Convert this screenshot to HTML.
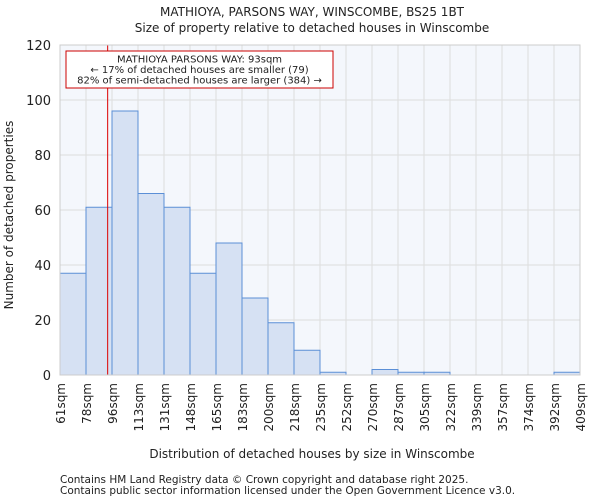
<!DOCTYPE html>
<html><head><meta charset="utf-8"><style>
body{margin:0;background:#fff;font-family:"DejaVu Sans","Liberation Sans",sans-serif}
svg text{font-family:"DejaVu Sans","Liberation Sans",sans-serif;fill:#222}
</style></head><body>
<svg id="c" width="600" height="500">
<text x="312" y="16" font-size="12" text-anchor="middle">MATHIOYA, PARSONS WAY, WINSCOMBE, BS25 1BT</text>
<text x="312" y="32" font-size="12" text-anchor="middle">Size of property relative to detached houses in Winscombe</text>
<rect x="60" y="45" width="520" height="330" fill="#f4f7fc"/>
<g id="grid"></g><g id="bars"></g><g id="axes"></g>
<text transform="translate(13,215) rotate(-90)" font-size="12" text-anchor="middle">Number of detached properties</text>
<text x="312" y="458" font-size="12" text-anchor="middle">Distribution of detached houses by size in Winscombe</text>
<text x="60" y="483" font-size="10.5" fill="#555">Contains HM Land Registry data © Crown copyright and database right 2025.</text>
<text x="60" y="494" font-size="10.5" fill="#555">Contains public sector information licensed under the Open Government Licence v3.0.</text>
</svg>
<script>
const categories=["61sqm","78sqm","96sqm","113sqm","131sqm","148sqm","165sqm","183sqm","200sqm","218sqm","235sqm","252sqm","270sqm","287sqm","305sqm","322sqm","339sqm","357sqm","374sqm","392sqm","409sqm"];
const edges=[61,78,96,113,131,148,165,183,200,218,235,252,270,287,305,322,339,357,374,392,409];
const counts=[37,61,96,66,61,37,48,28,19,9,1,0,2,1,1,0,0,0,0,1];
const yTicks=[0,20,40,60,80,100,120];
const marker=93;
const NS="http://www.w3.org/2000/svg";
const X0=60,X1=580,Y0=375,Y1=45,YMAX=120;
const bw=(X1-X0)/counts.length;
const xi=i=>X0+i*bw;
const y=v=>Y0-(v/YMAX)*(Y0-Y1);
function xv(v){for(let i=0;i<edges.length-1;i++){if(v<=edges[i+1])return xi(i)+bw*(v-edges[i])/(edges[i+1]-edges[i]);}return X1;}
function mk(t,a,p){const e=document.createElementNS(NS,t);for(const k in a)e.setAttribute(k,a[k]);p.appendChild(e);return e;}
const g=document.getElementById('grid'),b=document.getElementById('bars'),ax=document.getElementById('axes');
yTicks.forEach(v=>{const l=mk('line',{x1:X0,x2:X1,y1:y(v),y2:y(v),stroke:'#dddddd','stroke-width':1},g);


const t=mk('text',{x:X0-9,y:y(v)+5,'font-size':13,'text-anchor':'end'},ax);t.textContent=v;

});
categories.forEach((c,i)=>{const l=mk('line',{x1:xi(i),x2:xi(i),y1:Y1,y2:Y0,stroke:'#dddddd','stroke-width':1},g);


const t=mk('text',{transform:`translate(${xi(i)+5},${Y0+8}) rotate(-90)`,'font-size':12,'text-anchor':'end'},ax);t.textContent=c;

});
counts.forEach((v,i)=>{const r=mk('rect',{x:xi(i),y:y(v),width:bw,height:Y0-y(v),fill:'#d6e1f3',stroke:'#5b8fd6','stroke-width':1},b);

});
const ml=mk('line',{x1:xv(marker),x2:xv(marker),y1:Y1,y2:Y0,stroke:'#dd0000','stroke-width':1},ax);


const bx=mk('rect',{x:66,y:51,width:267,height:37,fill:'#fff',stroke:'#cc0000','stroke-width':1},ax);


["MATHIOYA PARSONS WAY: 93sqm","← 17% of detached houses are smaller (79)","82% of semi-detached houses are larger (384) →"].forEach((s,i)=>{const t=mk('text',{x:199.5,y:62.5+i*10.5,'font-size':10,'text-anchor':'middle'},ax);t.textContent=s;

});
mk('rect',{x:X0,y:Y1,width:X1-X0,height:Y0-Y1,fill:'none',stroke:'#ccc'},ax);
</script>
</body></html>
